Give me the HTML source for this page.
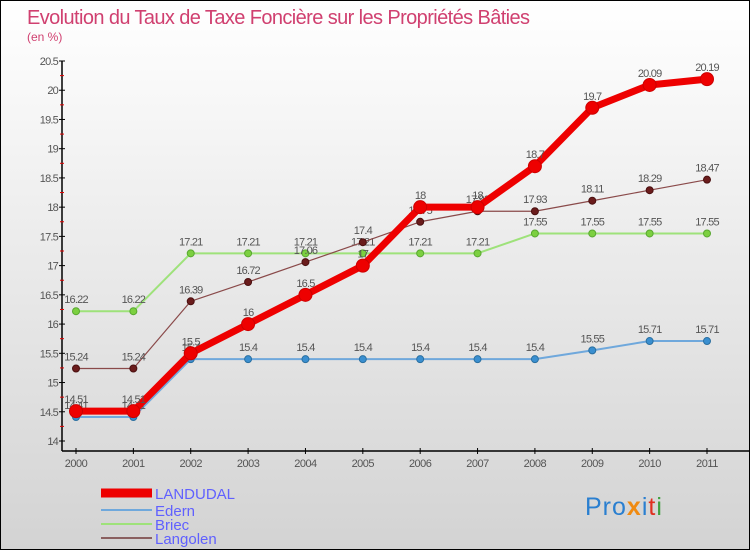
<!DOCTYPE html>
<html><head><meta charset="utf-8">
<style>
body{margin:0;}
#wrap{position:relative;width:748px;height:548px;border:1px solid #000;background:linear-gradient(#ffffff,#d3d3d3);font-family:"Liberation Sans",sans-serif;overflow:hidden;}
svg text{font-family:"Liberation Sans",sans-serif;}
</style></head>
<body>
<div id="wrap">
<svg id="chart" width="748" height="548">
<text x="26" y="23" font-size="20" fill="#d04070" style="letter-spacing:-0.6px">Evolution du Taux de Taxe Foncière sur les Propriétés Bâties</text>
<text x="26" y="40" font-size="12" fill="#d04070">(en %)</text>
<g id="axes"></g>
<g id="series"></g>
<g id="legend"></g>
<text x="584" y="514" font-size="25" style="letter-spacing:1px"><tspan fill="#2a7fd0">Pro</tspan><tspan fill="#f08a10" font-weight="bold">x</tspan><tspan fill="#2a7fd0">i</tspan><tspan fill="#e03020">t</tspan><tspan fill="#40a040">i</tspan></text>
</svg>
</div>
<script>
const years=[2000,2001,2002,2003,2004,2005,2006,2007,2008,2009,2010,2011];
const yTicks=[14,14.5,15,15.5,16,16.5,17,17.5,18,18.5,19,19.5,20,20.5];
const landudal=[14.51,14.51,15.5,16,16.5,17,18,18,18.7,19.7,20.09,20.19];
const edern=[14.41,14.41,15.4,15.4,15.4,15.4,15.4,15.4,15.4,15.55,15.71,15.71];
const briec=[16.22,16.22,17.21,17.21,17.21,17.21,17.21,17.21,17.55,17.55,17.55,17.55];
const langolen=[15.24,15.24,16.39,16.72,17.06,17.4,17.75,17.93,17.93,18.11,18.29,18.47];
const NS='http://www.w3.org/2000/svg';
function X(i){return 75+i*(706-75)/11;}
function Y(v){return 60+(20.5-v)*(440-60)/6.5;}
function mk(tag,attrs,parent,txt){const e=document.createElementNS(NS,tag);for(const k in attrs)e.setAttribute(k,attrs[k]);if(txt!==undefined)e.textContent=txt;parent.appendChild(e);return e;}
const axes=document.getElementById('axes');
let e;
e=mk('line',{x1:61,y1:60,x2:61,y2:450,stroke:'#000','stroke-width':1.5},axes);


e=mk('line',{x1:61,y1:450,x2:748,y2:450,stroke:'#000','stroke-width':1.5},axes);


yTicks.forEach((t,i)=>{
  const y=Y(t);
  mk('line',{x1:58,y1:y,x2:64,y2:y,stroke:'#000'},axes);
  if(i<yTicks.length-1){mk('line',{x1:59,y1:Y(t+0.25),x2:63,y2:Y(t+0.25),stroke:'#e00000'},axes);}
  e=mk('text',{x:57,y:y+4,'font-size':11,fill:'#555','text-anchor':'end','letter-spacing':'-0.8'},axes,String(t));
  
  
});
years.forEach((yr,i)=>{
  mk('line',{x1:X(i),y1:447,x2:X(i),y2:453,stroke:'#000'},axes);
  e=mk('text',{x:X(i),y:466,'font-size':11,fill:'#555','text-anchor':'middle','letter-spacing':'-0.5'},axes,String(yr));
  
  
});
const ser=document.getElementById('series');
function draw(vals,name,color,lw,r,dot,dotStroke){
  const g=mk('g',{},ser);
  
  
  const pts=vals.map((v,i)=>X(i)+','+Y(v)).join(' ');
  e=mk('polyline',{points:pts,fill:'none',stroke:color,'stroke-width':lw,'stroke-linejoin':'round'},g);
  
  
  vals.forEach((v,i)=>{
    e=mk('circle',{cx:X(i),cy:Y(v),r:r,fill:dot,stroke:dotStroke,'stroke-width':1},g);
    
    
    e=mk('text',{x:X(i),y:Y(v)-8,'font-size':11,fill:'#555','text-anchor':'middle','letter-spacing':'-0.8'},g,String(v));
    
    
  });
}
draw(briec,'briec','#9ee27a',2,3.5,'#7cd040','#58a830');
draw(edern,'edern','#6fa8dc',2,3.5,'#3a8fd0','#2a6fa0');
draw(langolen,'langolen','#8a4a4a',1.2,3.5,'#6b1c1c','#4a1010');
draw(landudal,'landudal','#ee0000',7,6.5,'#ee0000','#cc0000');
const lg=document.getElementById('legend');
const leg=[['LANDUDAL','#ee0000',9,492],['Edern','#6fa8dc',2,509],['Briec','#9ee27a',2,523],['Langolen','#8a6060',2,537]];
leg.forEach(l=>{
  e=mk('line',{x1:100,y1:l[3],x2:151,y2:l[3],stroke:l[1],'stroke-width':l[2]},lg);
  
  
  e=mk('text',{x:154,y:l[3]+6,'font-size':15,fill:'#6060ff'},lg,l[0]);
  
  
});
</script>
</body></html>
